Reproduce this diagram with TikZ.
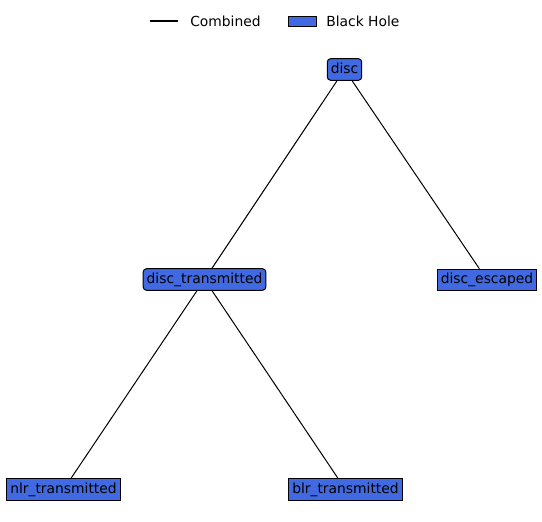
\documentclass[tikz,border=0pt]{standalone}
\usepackage{fontspec}
\setmainfont{DejaVu Sans}
\definecolor{royalblue}{HTML}{4169E1}
\begin{document}
\begin{tikzpicture}[x=0.75pt,y=-0.75pt,
  every node/.style={font=\fontsize{10.4pt}{12pt}\selectfont},
  bh/.style={draw=black,fill=royalblue,line width=0.75pt,inner xsep=2.6pt,inner ysep=3pt,text height=7.9pt,text depth=2.3pt},
  bhr/.style={bh,rounded corners=2.5pt},
  edge/.style={draw=black,line width=0.75pt},
  lbl/.style={anchor=west,inner sep=0pt,text height=7.9pt,text depth=2.3pt}]
\useasboundingbox (0,0) rectangle (542,521);
\node[bhr] (disc) at (344.5,69.5) {disc};
\node[bhr] (dt) at (204.5,279.5) {disc\_transmitted};
\node[bh] (de) at (487,280) {disc\_escaped};
\node[bh] (nlr) at (63.5,489.5) {nlr\_transmitted};
\node[bh] (blr) at (345.5,489.5) {blr\_transmitted};
\draw[edge] (disc) -- (dt);
\draw[edge] (disc) -- (de);
\draw[edge] (dt) -- (nlr);
\draw[edge] (dt) -- (blr);
% legend
\coordinate (l1) at (150,21);
\coordinate (l2) at (178,21);
\draw[draw=black,line width=1.2pt] (l1) -- (l2);
\node[lbl] (lc) at (190,22.5) {Combined};
\node[draw=black,fill=royalblue,line width=0.75pt,minimum width=21pt,minimum height=7.5pt,inner sep=0pt] (lp) at (302,21) {};
\node[lbl] (lb) at (326,22.5) {Black Hole};
\end{tikzpicture}
\end{document}
